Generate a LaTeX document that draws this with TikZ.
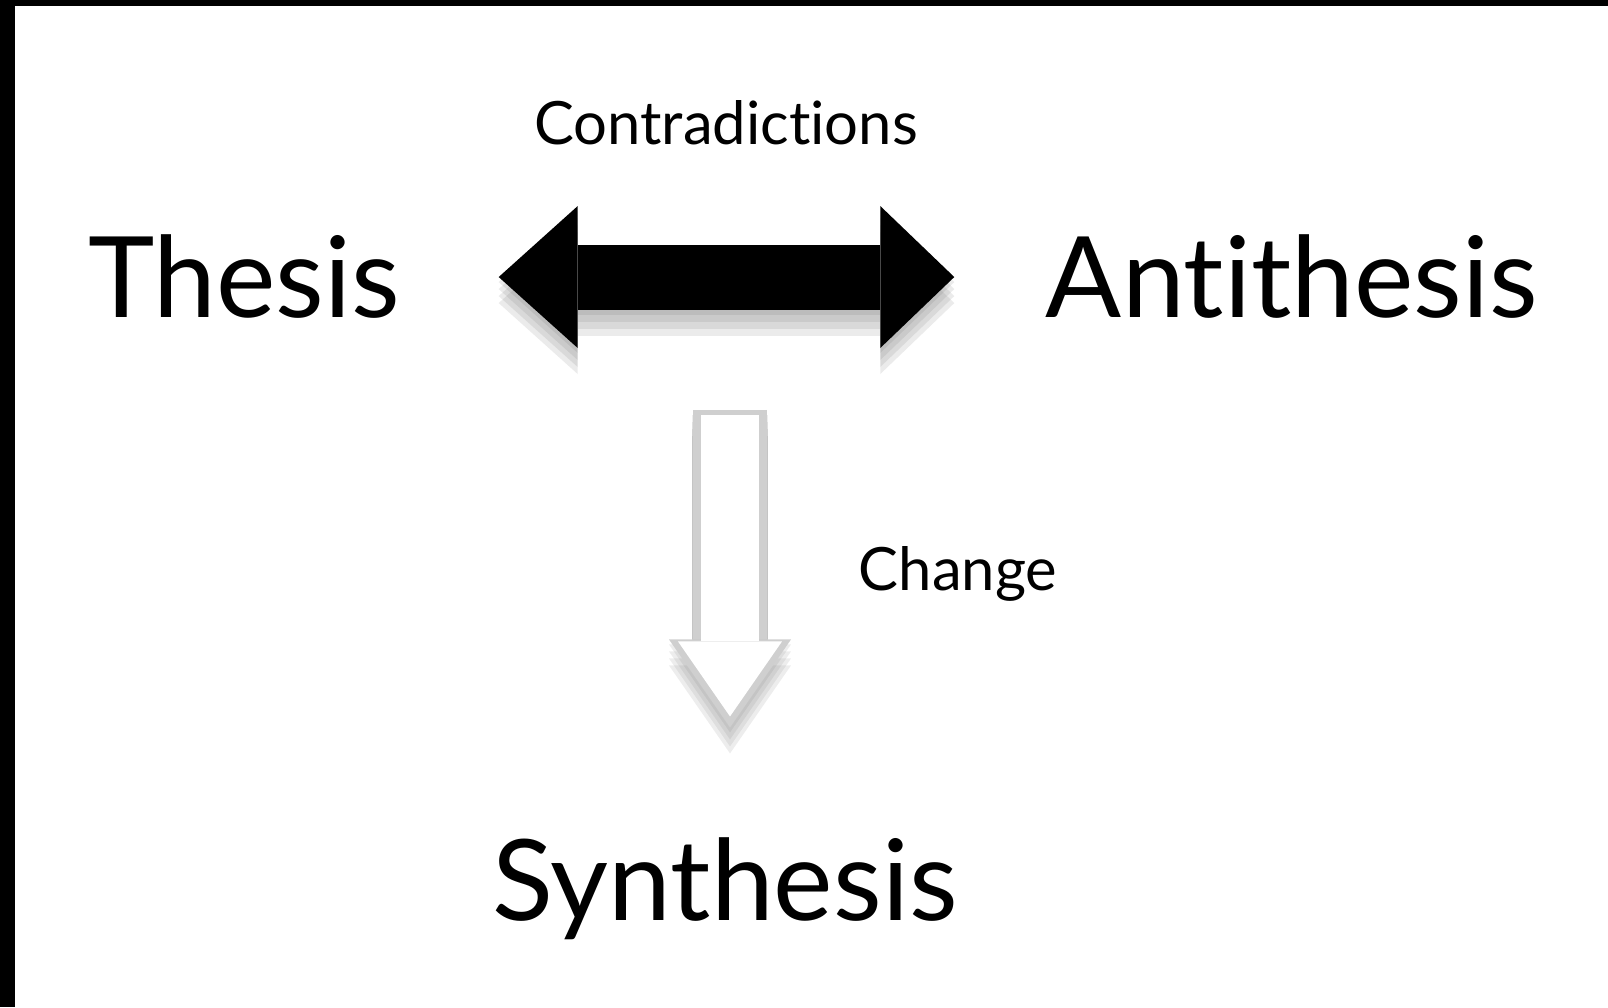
\documentclass[tikz,border=0pt]{standalone}
\usepackage{fontspec}
\setmainfont{Lato}[Ligatures=NoCommon]
\usepackage{tikz}
\usetikzlibrary{arrows.meta,positioning,calc}
\definecolor{edgegray}{HTML}{CFCFCF}
\definecolor{shadegray}{HTML}{6E6E6E}

\begin{document}
\begin{tikzpicture}[
  term/.style={inner sep=0pt, anchor=base, font=\fontsize{32}{36}\selectfont},
  cue/.style={inner sep=0pt, anchor=base, font=\fontsize{17}{20}\selectfont},
  bigarr/.style={line width=6.5mm, {Triangle[length=7.9mm, width=14.2mm, line width=0pt]}-{Triangle[length=7.4mm, width=14.2mm, line width=0pt]}},
  bigshade/.style={bigarr, shadegray, opacity=0.14, transform canvas={yshift=-#1}},
  chgarr/.style={line width=#1, -{Triangle[length=8.8mm, width=12.2mm, line width=0pt]}},
  chgshade/.style={chgarr=7.6mm, shadegray, opacity=0.12, transform canvas={yshift=-#1}}
]
  \useasboundingbox (0,0) rectangle (16.08,10.07);
  \fill[black] (0,10.01) rectangle (16.08,10.07);
  \fill[black] (0,0) rectangle (0.15,10.07);

  \node[term] (thesis) at (2.44,6.89) {Thesis};
  \node[term] (anti) at (12.92,6.89) {Antithesis};
  \node[term] (synth) at (7.25,0.87) {Synthesis};
  \node[cue] (contra) at (7.26,8.62) {Contradictions};
  \node[cue] (change) at (9.58,4.17) {Change};
  \coordinate (chtop) at (7.30,5.97);

  \foreach \d in {0.5mm,1.2mm,1.9mm,2.6mm}
    \draw[bigshade=\d, shorten <=0.98cm, shorten >=0.91cm] (thesis) -- (anti);
  \draw[bigarr, black, shorten <=0.98cm, shorten >=0.91cm] (thesis) -- (anti);

  \foreach \d in {0.5mm,1.2mm,1.9mm,2.6mm}
    \draw[chgshade=\d, shorten >=1.09cm] (chtop) -- (chtop |- synth.north);
  \draw[chgarr=7.4mm, edgegray, shorten >=1.09cm] (chtop) -- (chtop |- synth.north);
  \draw[chgarr=5.8mm, white, shorten >=1.20cm, -{Triangle[length=7.5mm, width=10.4mm, line width=0pt]}] ($(chtop)+(0,-0.05)$) -- (chtop |- synth.north);
\end{tikzpicture}
\end{document}
